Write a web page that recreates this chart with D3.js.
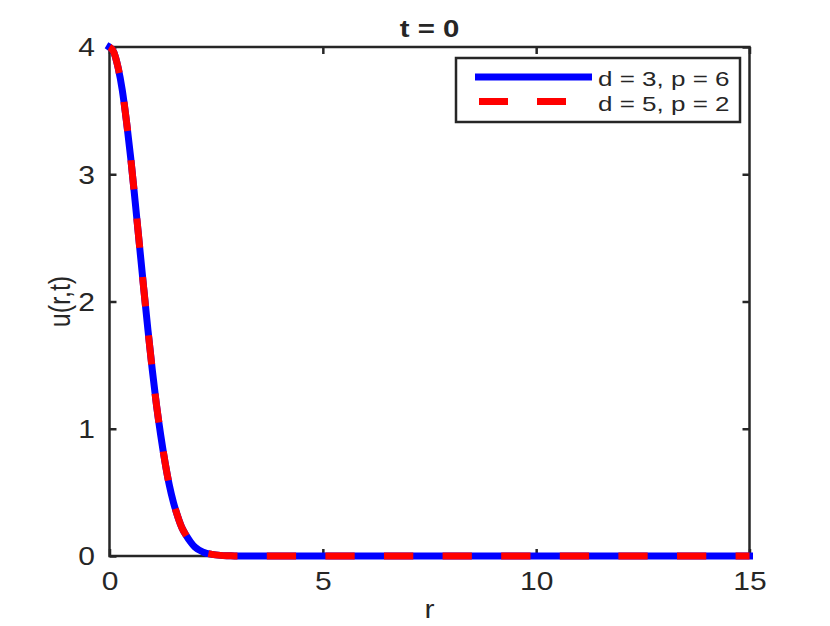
<!DOCTYPE html>
<html>
<head>
<meta charset="utf-8">
<script src="https://cdn.jsdelivr.net/npm/d3@7"></script>
<style>
  body { margin: 0; background: #fff; }
  text { font-family: "Liberation Sans", Arial, sans-serif; fill: #262626; }
</style>
</head>
<body>
<div id="chart"></div>
<script>
// values, r from 0 to 15
var rVals  = [0, 0.1, 0.2, 0.3, 0.4, 0.5, 0.6, 0.7, 0.8, 0.9, 1.0, 1.1, 1.2, 1.3, 1.4, 1.5,
              1.6, 1.7, 1.8, 1.9, 2.0, 2.2, 2.4, 2.6, 2.8, 3.0, 15];
var uD3P6  = [4.00, 3.96, 3.84, 3.66, 3.41, 3.12, 2.79, 2.45, 2.11, 1.78, 1.47, 1.19, 0.95, 0.74, 0.56, 0.42,
              0.31, 0.22, 0.16, 0.11, 0.07, 0.03, 0.013, 0.005, 0.002, 0, 0];
var uD5P2  = [4.00, 3.96, 3.84, 3.66, 3.41, 3.12, 2.79, 2.45, 2.11, 1.78, 1.47, 1.19, 0.95, 0.74, 0.56, 0.42,
              0.31, 0.22, 0.16, 0.11, 0.07, 0.03, 0.013, 0.005, 0.002, 0, 0];
var seriesNames = ["d = 3, p = 6", "d = 5, p = 2"];
var xTicks = [0, 5, 10, 15];
var yTicks = [0, 1, 2, 3, 4];
var titleText = "t = 0";

var width = 830, height = 626;
var plotL = 109.5, plotR = 749.5, plotT = 47, plotB = 556;
var stretch = 1.2; // glyphs in the reference look wide

var svg = d3.select("#chart").append("svg")
    .attr("width", width)
    .attr("height", height);

var x = d3.scaleLinear().domain([0, 15]).range([plotL, plotR]);
var y = d3.scaleLinear().domain([0, 4]).range([plotB, plotT]);

var axisColor = "#262626";

// box
svg.append("rect")
    .attr("x", plotL).attr("y", plotT)
    .attr("width", plotR - plotL).attr("height", plotB - plotT)
    .attr("fill", "none")
    .attr("stroke", axisColor)
    .attr("stroke-width", 2.5);

// bottom axis
var gx = svg.append("g")
    .attr("transform", "translate(0," + plotB + ")")
    .call(d3.axisBottom(x).tickValues(xTicks).tickSizeInner(-7).tickSizeOuter(0).tickFormat(d3.format("d")));
// top ticks
var gxt = svg.append("g")
    .attr("transform", "translate(0," + plotT + ")")
    .call(d3.axisTop(x).tickValues(xTicks).tickSizeInner(-7).tickSizeOuter(0).tickFormat(""));
// left axis
var gy = svg.append("g")
    .attr("transform", "translate(" + plotL + ",0)")
    .call(d3.axisLeft(y).tickValues(yTicks).tickSizeInner(-7).tickSizeOuter(0).tickFormat(d3.format("d")));
// right ticks
var gyr = svg.append("g")
    .attr("transform", "translate(" + plotR + ",0)")
    .call(d3.axisRight(y).tickValues(yTicks).tickSizeInner(-7).tickSizeOuter(0).tickFormat(""));

[gx, gxt, gy, gyr].forEach(function(g) {
    g.select(".domain").remove();
    g.selectAll(".tick line")
        .attr("stroke", axisColor)
        .attr("stroke-width", 2.5);
});

gx.selectAll(".tick text")
    .attr("y", 34).attr("dy", null)
    .attr("font-size", 25)
    .attr("fill", axisColor)
    .attr("transform", "scale(" + stretch + ",1)");

gy.selectAll(".tick text")
    .attr("x", -14.5 / stretch).attr("dy", "0.35em")
    .attr("font-size", 25)
    .attr("fill", axisColor)
    .attr("transform", "scale(" + stretch + ",1)");

// title and axis labels
svg.append("text")
    .attr("transform", "translate(" + (plotL + plotR) / 2 + ",37) scale(1.25,1)")
    .attr("text-anchor", "middle")
    .attr("font-size", 23.5)
    .attr("font-weight", "bold")
    .attr("fill", "#000")
    .text(titleText);

svg.append("text")
    .attr("transform", "translate(" + (plotL + plotR) / 2 + ",618) scale(" + stretch + ",1)")
    .attr("text-anchor", "middle")
    .attr("font-size", 25)
    .text("r");

svg.append("text")
    .attr("transform", "translate(70," + (plotT + plotB) / 2 + ") scale(" + stretch + ",1) rotate(-90)")
    .attr("text-anchor", "middle")
    .attr("font-size", 25)
    .text("u(r,t)");

// curves
var line = d3.line()
    .x(function(d) { return x(d[0]); })
    .y(function(d) { return y(d[1]); })
    .curve(d3.curveMonotoneX);

var blueData = rVals.map(function(r, i) { return [r, uD3P6[i]]; });
var redData = rVals.map(function(r, i) { return [r, uD5P2[i]]; });

svg.append("path")
    .datum(blueData)
    .attr("d", line)
    .attr("fill", "none")
    .attr("stroke", "#0000ff")
    .attr("stroke-width", 7)
    .attr("stroke-linecap", "square")
    .attr("stroke-linejoin", "round");

var red = svg.append("path")
    .datum(redData)
    .attr("d", line)
    .attr("fill", "none")
    .attr("stroke", "#ff0000")
    .attr("stroke-width", 7)
    .attr("stroke-dasharray", "29.3,29.3");

var L = red.node().getTotalLength();
var period = 58.6;
var off = ((14 - L) % period + period) % period;
red.attr("stroke-dashoffset", off);

// legend
var lg = svg.append("g");
lg.append("rect")
    .attr("x", 456).attr("y", 58)
    .attr("width", 284).attr("height", 64)
    .attr("fill", "#fff")
    .attr("stroke", axisColor)
    .attr("stroke-width", 2.5);

var legendColors = ["#0000ff", "#ff0000"];
seriesNames.forEach(function(name, i) {
    var ly = 77 + i * 24.5;
    lg.append("line")
        .attr("x1", i === 0 ? 478.5 : 479).attr("x2", 588.5)
        .attr("y1", ly).attr("y2", ly)
        .attr("stroke", legendColors[i])
        .attr("stroke-width", 7)
        .attr("stroke-linecap", i === 0 ? "square" : "butt")
        .attr("stroke-dasharray", i === 0 ? null : "29,29");
    lg.append("text")
        .attr("transform", "translate(598," + (ly + 9) + ") scale(1.3,1)")
        .attr("font-size", 20)
        .attr("fill", "#000")
        .text(name);
});
</script>
</body>
</html>
